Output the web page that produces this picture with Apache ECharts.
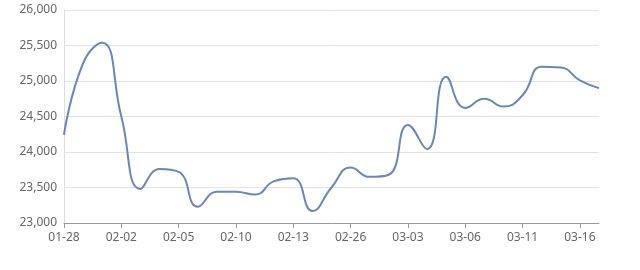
<!DOCTYPE html>
<html>
<head>
<meta charset="utf-8">
<script src="https://cdn.jsdelivr.net/npm/echarts@6/dist/echarts.min.js"></script>
<style>html,body{margin:0;padding:0;background:#fff;}#c{width:640px;height:270px;}</style>
</head>
<body>
<div id="c"></div>
<script>
var categories = ['01-28','01-29','01-30','02-02','02-03','02-04','02-05','02-06','02-07','02-10',
  '02-11','02-12','02-13','02-14','02-25','02-26','02-27','02-28','03-03','03-04',
  '03-05','03-06','03-07','03-10','03-11','03-12','03-13','03-16','03-17'];
var prices = [24240,25250,25540,24500,23480,23760,23720,23230,23440,23440,
  23400,23590,23630,23170,23500,23780,23650,23680,24380,24040,
  25060,24620,24750,24640,24800,25200,25190,25010,24900];
var yTicks = {min: 23000, max: 26000, step: 500};

var chart = echarts.init(document.getElementById('c'), null, {renderer: 'canvas'});
chart.setOption({
  animation: false,
  backgroundColor: '#ffffff',
  grid: {left: 64, right: 41, top: 10, bottom: 47},
  xAxis: {
    type: 'category',
    data: categories,
    boundaryGap: false,
    axisLine: {lineStyle: {color: '#999999'}},
    axisTick: {interval: 2, length: 5, lineStyle: {color: '#999999'}},
    axisLabel: {interval: 2, color: '#666666', fontSize: 12, margin: 9, fontFamily: 'Noto Sans'},
    splitLine: {show: false}
  },
  yAxis: {
    type: 'value',
    min: yTicks.min, max: yTicks.max, interval: yTicks.step,
    axisLine: {show: true, lineStyle: {color: '#dddddd'}},
    axisTick: {show: false},
    axisLabel: {color: '#666666', fontSize: 12, margin: 7, fontFamily: 'Noto Sans',
      formatter: function (v) { return v.toLocaleString('en-US'); }},
    splitLine: {lineStyle: {color: '#e3e3e3'}}
  },
  series: [{
    type: 'line',
    data: prices,
    smooth: true,
    showSymbol: false,
    lineStyle: {color: '#6a87b8', width: 2},
    itemStyle: {color: '#6a87b8'}
  }]
});
</script>
</body>
</html>
